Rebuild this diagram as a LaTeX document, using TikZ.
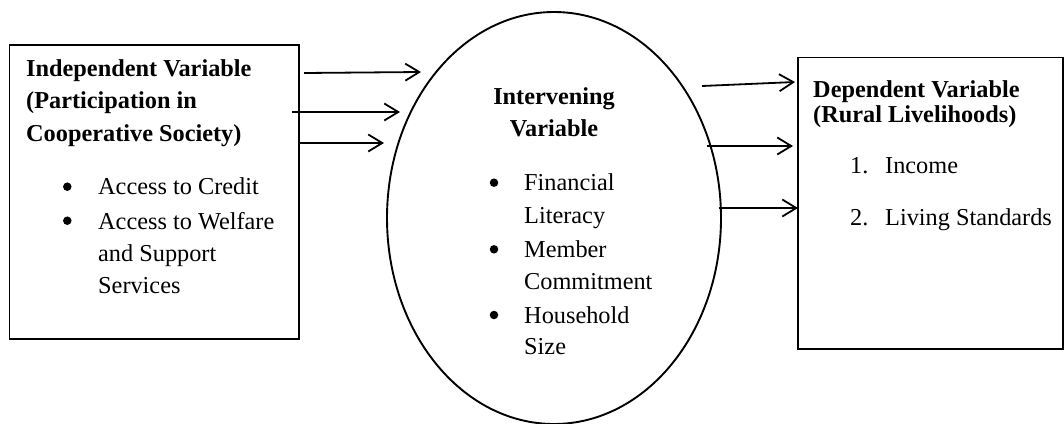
\documentclass[tikz,border=0pt]{standalone}
\usepackage{fontspec}
\setmainfont{Liberation Serif}
\usetikzlibrary{arrows.meta,shapes.geometric}
\begin{document}
\begin{tikzpicture}[x=1pt,y=-1pt,
  box/.style={draw, line width=1.3pt, inner sep=0pt},
  oval/.style={draw, ellipse, line width=1.9pt, inner sep=0pt},
  conn/.style={line width=1.8pt, -{Straight Barb[length=14pt,width=17pt]}},
  txt/.style={anchor=base west, inner sep=0pt, font=\fontsize{24.3}{30}\selectfont},
  btxt/.style={txt, font=\fontsize{24.3}{30}\selectfont\bfseries},
  ctxt/.style={btxt, anchor=base},
  dot/.style={circle, fill, inner sep=0pt, minimum size=8.5pt},
]
\useasboundingbox (0,0) rectangle (1064,423);
% shapes
\node[box, minimum width=289.5pt, minimum height=294pt] (indep) at (154.25,192) {};
\node[oval, minimum width=334pt, minimum height=412pt] (interv) at (554,218) {};
\node[box, minimum width=265pt, minimum height=291.5pt] (dep) at (930.5,203.25) {};
% left texts
\node[btxt] (l1) at (26,76) {Independent Variable};
\node[btxt] (l2) at (26,108.5) {(Participation in};
\node[btxt] (l3) at (26,141) {Cooperative Society)};
\node[dot] (lb1) at (67.3,186.7) {};
\node[txt] (lt1) at (98,194) {Access to Credit};
\node[dot] (lb2) at (67.3,220.7) {};
\node[txt] (lt2) at (98,229) {Access to Welfare};
\node[txt] (lt3) at (98,261) {and Support};
\node[txt] (lt4) at (98,293) {Services};
% middle texts
\node[ctxt] (m1) at (554,104) {Intervening};
\node[ctxt] (m2) at (554,136) {Variable};
\node[dot] (mb1) at (494,182.7) {};
\node[txt] (mt1) at (524,190) {Financial};
\node[txt] (mt2) at (524,223) {Literacy};
\node[dot] (mb2) at (494,249.3) {};
\node[txt] (mt3) at (524,257) {Member};
\node[txt] (mt4) at (524,289) {Commitment};
\node[dot] (mb3) at (494,315) {};
\node[txt] (mt5) at (524,323) {Household};
\node[txt] (mt6) at (524,354) {Size};
% right texts
\node[btxt] (r1) at (813,97) {Dependent Variable};
\node[btxt] (r2) at (813,122) {(Rural Livelihoods)};
\node[txt] (rn1) at (850,173) {1.};
\node[txt] (rt1) at (885,173) {Income};
\node[txt] (rn2) at (850,225) {2.};
\node[txt] (rt2) at (885,225) {Living Standards};
% connector ends
\coordinate (a1s) at (304,73);
\coordinate (a1e) at (421,72);
\coordinate (a2s) at (292,112);
\coordinate (a2e) at (400,112);
\coordinate (a3s) at (299,143);
\coordinate (a3e) at (384,143);
\coordinate (b1s) at (702,86);
\coordinate (b1e) at (795,82);
\coordinate (b2s) at (707,146);
\coordinate (b2e) at (793,146);
\coordinate (b3s) at (719,208);
\coordinate (b3e) at (798,208);
\draw[conn] (a1s) -- (a1e);
\draw[conn] (a2s) -- (a2e);
\draw[conn] (a3s) -- (a3e);
\draw[conn] (b1s) -- (b1e);
\draw[conn] (b2s) -- (b2e);
\draw[conn] (b3s) -- (b3e);
\end{tikzpicture}
\end{document}
